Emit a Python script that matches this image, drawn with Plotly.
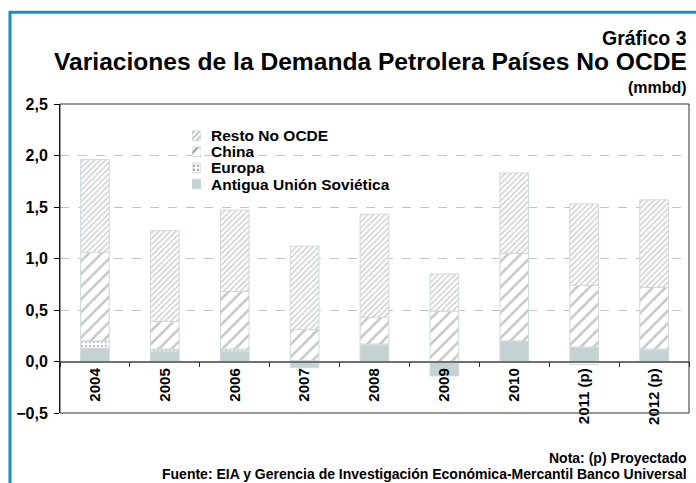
import plotly.graph_objects as go

# data (mmbd)
years = ["2004", "2005", "2006", "2007", "2008", "2009", "2010", "2011 (p)", "2012 (p)"]
antigua = [0.13, 0.10, 0.10, -0.06, 0.16, -0.14, 0.20, 0.14, 0.11]
europa = [0.07, 0.02, 0.02, 0.01, 0.01, 0.00, 0.00, -0.03, 0.01]
china = [0.86, 0.27, 0.56, 0.30, 0.26, 0.49, 0.85, 0.60, 0.60]
resto = [0.90, 0.88, 0.79, 0.81, 1.00, 0.36, 0.78, 0.79, 0.85]

legend_names = ["Resto No OCDE", "China", "Europa", "Antigua Unión Soviética"]

FONT = "Liberation Sans, Arial, sans-serif"
EDGE = "#cdd9dc"
HATCH = "#c6c6c6"
SOLID = "#c5d2d4"

# pattern style per series: (shape, size, solidity)
styles = {
    "Resto No OCDE": ("/", 4, 0.3),
    "China": ("/", 9, 0.28),
    "Europa": (".", 4, 0.35),
    "Antigua Unión Soviética": ("", 8, 0.3),
}


def bar_marker(name):
    shape, size, solid = styles[name]
    if shape == "":
        return dict(color=SOLID, line=dict(color=EDGE, width=1))
    return dict(
        color="white",
        line=dict(color=EDGE, width=1),
        pattern=dict(shape=shape, size=size, solidity=solid,
                     fgcolor=HATCH, bgcolor="white", fillmode="replace"),
    )


fig = go.Figure()

series = [
    ("Antigua Unión Soviética", antigua),
    ("Europa", europa),
    ("China", china),
    ("Resto No OCDE", resto),
]
for name, vals in series:
    fig.add_trace(go.Bar(x=years, y=vals, name=name, marker=bar_marker(name),
                         showlegend=False))

# hand-made legend: swatches as tiny bars on hidden axes
sw_shapes = [styles[n][0] for n in legend_names]
sw_sizes = [styles[n][1] for n in legend_names]
sw_solid = [styles[n][2] for n in legend_names]
sw_colors = [SOLID if s == "" else "white" for s in sw_shapes]
fig.add_trace(go.Bar(
    x=[1] * len(legend_names), y=list(range(len(legend_names))),
    orientation="h", width=0.6, xaxis="x2", yaxis="y2", showlegend=False,
    hoverinfo="skip",
    marker=dict(color=sw_colors, line=dict(color=EDGE, width=1),
                pattern=dict(shape=sw_shapes, size=sw_sizes, solidity=sw_solid,
                             fgcolor=HATCH, bgcolor="white")),
))
for i, name in enumerate(legend_names):
    fig.add_annotation(x=1, y=i, xref="x2", yref="y2", text="<b>%s</b>" % name,
                       showarrow=False, xanchor="left", xshift=8,
                       font=dict(family=FONT, size=15.5, color="black"))

# white legend background hides grid lines behind it
fig.add_shape(type="rect", xref="paper", yref="paper",
              x0=0.122, x1=0.615, y0=0.69, y1=0.95,
              fillcolor="white", line=dict(width=0), layer="between")

# plot frame
fig.add_shape(type="rect", xref="paper", yref="paper", x0=0, x1=1, y0=0, y1=1,
              line=dict(color="#303030", width=1), layer="above")

# blue outer frame (only left and top visible)
fig.add_shape(type="rect", xref="paper", yref="paper",
              x0=-0.0795, x1=1.05, y0=-0.35, y1=1.297,
              line=dict(color="#1a8fc6", width=3), layer="above")

# titles
fig.add_annotation(x=1, y=1.2136, xref="paper", yref="paper", text="<b>Gráfico 3</b>",
                   showarrow=False, xanchor="right", yanchor="middle",
                   font=dict(family=FONT, size=19.5, color="black"))
fig.add_annotation(x=1, y=1.136, xref="paper", yref="paper",
                   text="<b>Variaciones de la Demanda Petrolera Países No OCDE</b>",
                   showarrow=False, xanchor="right", yanchor="middle",
                   font=dict(family=FONT, size=24.6, color="black"))
fig.add_annotation(x=1, y=1.052, xref="paper", yref="paper", text="<b>(mmbd)</b>",
                   showarrow=False, xanchor="right", yanchor="middle",
                   font=dict(family=FONT, size=16, color="black"))

# notes
fig.add_annotation(x=1, y=-0.147, xref="paper", yref="paper", text="<b>Nota: (p) Proyectado</b>",
                   showarrow=False, xanchor="right", yanchor="middle",
                   font=dict(family=FONT, size=14, color="black"))
fig.add_annotation(x=1, y=-0.198, xref="paper", yref="paper",
                   text="<b>Fuente: EIA y Gerencia de Investigación Económica-Mercantil Banco Universal</b>",
                   showarrow=False, xanchor="right", yanchor="middle",
                   font=dict(family=FONT, size=14, color="black"))

fig.update_layout(
    width=696, height=483,
    margin=dict(l=60, r=7, t=104, b=70),
    barmode="relative", bargap=0.59,
    plot_bgcolor="white", paper_bgcolor="white",
    separators=",.",
    showlegend=False,
    font=dict(family=FONT, color="black"),
    xaxis=dict(
        type="category", anchor="free", position=1 / 6,
        showline=True, linecolor="#707070", linewidth=1.5,
        ticks="outside", tickson="boundaries", ticklen=5, tickcolor="#303030",
        tickangle=-90, showgrid=False,
        tickfont=dict(family=FONT, size=15, weight="bold", color="black"),
    ),
    yaxis=dict(
        range=[-0.5, 2.5], dtick=0.5, tickformat=".1f",
        showline=True, linecolor="black", linewidth=1,
        ticks="outside", ticklen=5, tickcolor="black", ticklabelstandoff=3,
        showgrid=True, gridcolor="#c4c4c4", griddash="dash", gridwidth=1,
        zeroline=False,
        tickfont=dict(family=FONT, size=16, weight="bold", color="black"),
    ),
    xaxis2=dict(domain=[0.2099, 0.2242], range=[0, 1], anchor="y2", visible=False,
                fixedrange=True),
    yaxis2=dict(domain=[0.715, 0.923], range=[3.5, -0.5], anchor="x2", visible=False,
                fixedrange=True),
)

# page body has an 8px default margin; drop it so the figure sits at the top-left
fig.write_html("out.html", config={"displayModeBar": False},
               post_script="document.body.style.margin='0';")
